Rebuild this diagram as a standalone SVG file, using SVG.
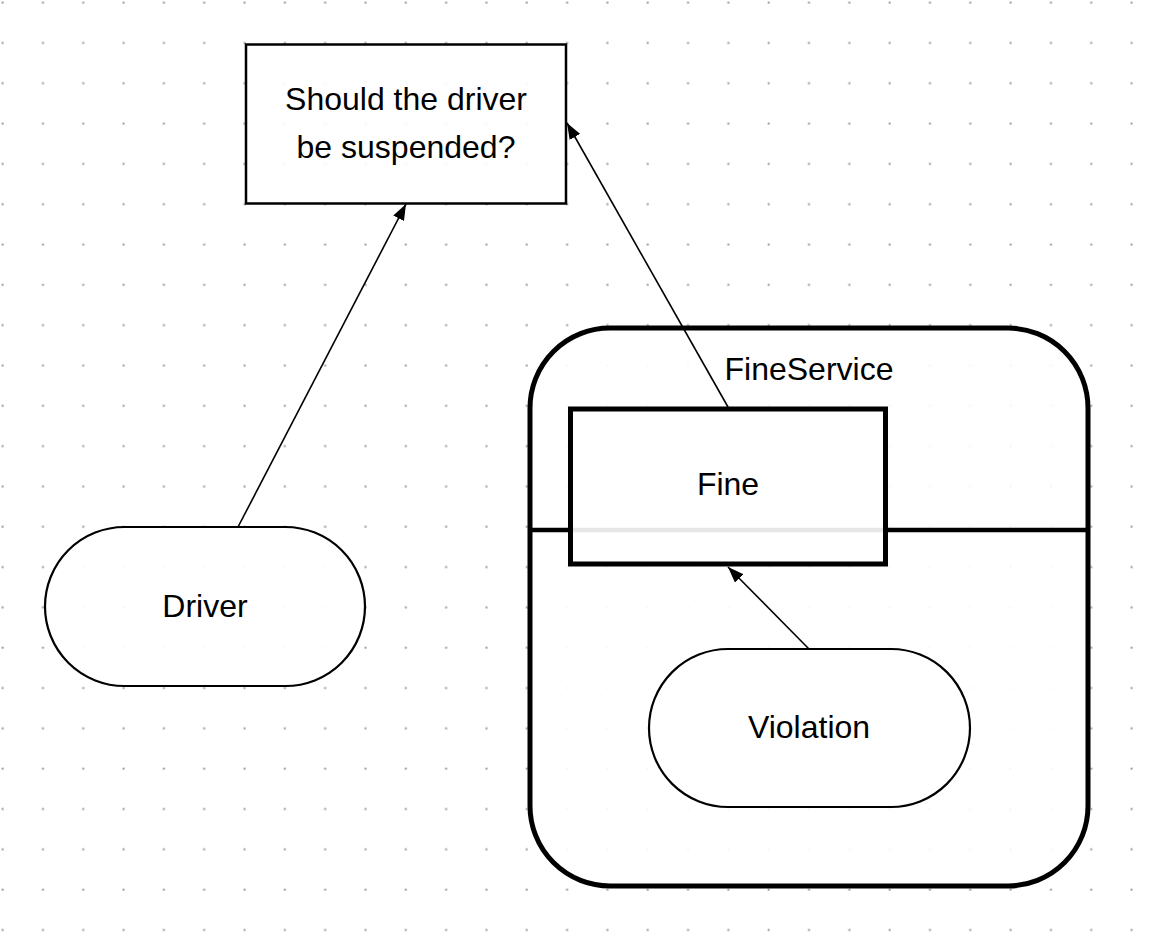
<svg xmlns="http://www.w3.org/2000/svg" width="1162" height="940" viewBox="0 0 1162 940">
  <defs>
    <pattern id="grid" x="0" y="0" width="40.32" height="40.32" patternUnits="userSpaceOnUse">
      <rect x="1.6" y="1.6" width="2" height="2" fill="#9a9a9a"/>
    </pattern>
    <marker id="arrow" viewBox="0 0 16 12" refX="16" refY="6" markerWidth="16" markerHeight="12" markerUnits="userSpaceOnUse" orient="auto">
      <path d="M0,0 L16,6 L0,12 z" fill="#000"/>
    </marker>
    <style>
      .label { font-family: "Liberation Sans", Arial, sans-serif; font-size: 32px; fill: #000; text-anchor: middle; }
      .shape { fill: #fff; fill-opacity: 0.9; stroke: #000; }
      .conn { fill: none; stroke: #000; stroke-width: 1.6; marker-end: url(#arrow); }
    </style>
  </defs>
  <rect x="0" y="0" width="1162" height="940" fill="#fff"/>
  <rect x="0" y="0" width="1162" height="940" fill="url(#grid)"/>

  <g id="FineService">
    <rect class="shape" x="530" y="328" width="558" height="558" rx="80" ry="80" stroke-width="5"/>
    <line x1="530" y1="530" x2="1088" y2="530" stroke="#000" stroke-width="4.5"/>
    <text class="label" x="809" y="380">FineService</text>
  </g>

  <g id="Fine">
    <rect class="shape" x="570.5" y="409" width="315" height="155" stroke-width="5"/>
    <text class="label" x="728" y="495">Fine</text>
  </g>

  <g id="Violation">
    <rect class="shape" x="649" y="649" width="321" height="158" rx="79" ry="79" stroke-width="2.2"/>
    <text class="label" x="809" y="738">Violation</text>
  </g>

  <g id="Driver">
    <rect class="shape" x="45" y="527" width="320" height="159" rx="79.5" ry="79.5" stroke-width="2.2"/>
    <text class="label" x="205" y="617">Driver</text>
  </g>

  <g id="Question">
    <rect class="shape" x="246" y="44.5" width="320" height="159" stroke-width="2.5"/>
    <text class="label" x="406" y="110">Should the driver</text>
    <text class="label" x="406" y="158">be suspended?</text>
  </g>

  <g id="connectors">
    <line class="conn" x1="238" y1="527" x2="406" y2="204"/>
    <line class="conn" x1="728" y1="407" x2="567" y2="123"/>
    <line class="conn" x1="809" y1="649" x2="728" y2="567"/>
  </g>
</svg>
